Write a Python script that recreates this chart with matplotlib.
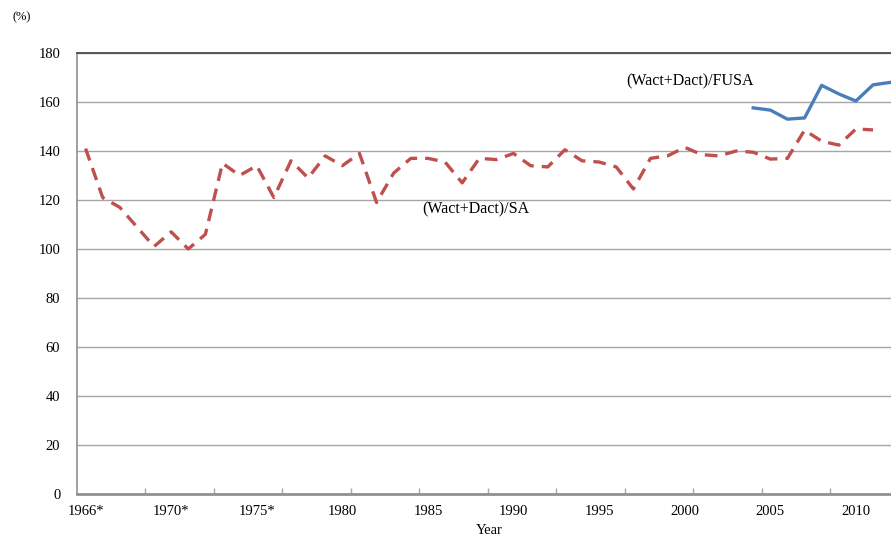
import numpy as np
import matplotlib.pyplot as plt

plt.rcParams['font.family'] = ['Liberation Serif', 'DejaVu Serif']

# (Wact+Dact)/SA, one value per category (1966* ... 2012)
sa = [141, 121, 117, 109, 101, 107, 100, 106, 135, 130,
      134, 121, 136, 129, 138, 134, 139, 119, 131, 137,
      137, 135.5, 127, 137, 136.5, 139, 134, 133.5, 140.5, 136,
      135.5, 133.5, 124.5, 137, 138, 141.5, 138.5, 138, 140, 139.5,
      136.7, 137, 148.5, 144, 142.4, 149, 148.6, np.nan]

# (Wact+Dact)/FUSA, only for the last years
fusa = [np.nan] * 39 + [157.6, 156.7, 153, 153.5, 166.8, 163.3, 160.4, 167, 168]

tick_labels = ["1966*", "1970*", "1975*", "1980", "1985", "1990",
               "1995", "2000", "2005", "2010"]

x = np.arange(len(sa))

fig = plt.figure(figsize=(8.91, 5.38), dpi=100)
ax = fig.add_axes([77 / 891, 1 - 494 / 538, 1 - 77 / 891, (494 - 53) / 538])

ax.plot(x, sa, color='#C0504D', lw=2.4, dashes=(3.8, 2.4), dash_capstyle='butt')
ax.plot(x, fusa, color='#4A7EBB', lw=2.4)

ax.set_ylim(0, 180)
ax.set_xlim(-0.5, 47.05)
ax.set_yticks(np.arange(0, 181, 20))
ax.yaxis.grid(True, color='#A6A6A6', lw=1.0)
ax.set_axisbelow(True)
ax.tick_params(axis='y', length=0, pad=12, labelsize=10.5)

ax.set_xticks(np.arange(0, 5 * len(tick_labels), 5))
ax.set_xticklabels(tick_labels)
ax.set_xticks(np.arange(3.5, 45, 4), minor=True)
ax.tick_params(axis='x', which='major', length=0, pad=8, labelsize=10.5)
ax.tick_params(axis='x', which='minor', direction='in', length=4, color='#A6A6A6', width=1)

ax.spines['right'].set_visible(False)
ax.spines['top'].set_color('#404040')
ax.spines['top'].set_linewidth(1.2)
ax.spines['left'].set_color('#909090')
ax.spines['left'].set_linewidth(1.2)
ax.spines['bottom'].set_color('#909090')
ax.spines['bottom'].set_linewidth(2)

ax.text(22.8, 116, '(Wact+Dact)/SA', fontsize=11.5, va='center', ha='center')
ax.text(35.3, 168.5, '(Wact+Dact)/FUSA', fontsize=11.5, va='center', ha='center')

fig.text(22 / 891, 1 - 17 / 538, '(%)', fontsize=9, ha='center', va='center')
fig.text(489 / 891, 1 - 531 / 538, 'Year', fontsize=10.5, ha='center', va='center')

fig.savefig('out.png', dpi=100)
